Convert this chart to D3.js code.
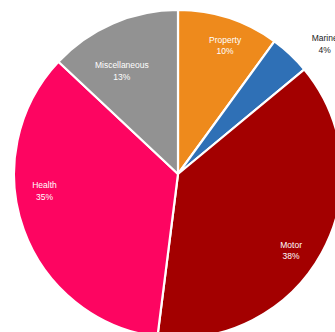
<!DOCTYPE html>
<html>
<head>
<meta charset="utf-8">
<script src="https://cdn.jsdelivr.net/npm/d3@7"></script>
<style>
  html, body { margin: 0; padding: 0; background: #fff; overflow: hidden; }
  .slice-label { font-family: "Liberation Sans Narrow", "Liberation Sans", Arial, sans-serif; font-size: 8.5px; }
</style>
</head>
<body>
<svg id="chart" width="335" height="332"></svg>
<script>
// Premium mix by line of business
const categories = ['Property', 'Marine', 'Motor', 'Health', 'Miscellaneous'];
const shares = [10, 4, 38, 35, 13];
const colors = ['#EE8A1C', '#2F70B6', '#A30000', '#FD0561', '#929292'];

// label placement: radius as fraction of pie radius, angle shift in degrees
const labelRadius = [0.84, 1.2, 0.83, 0.82, 0.72];
const labelShift = [2, 5, 5, 13, -5];

const width = 335, height = 332;
const cx = 178, cy = 174, R = 164;

const svg = d3.select('#chart');
const g = svg.append('g').attr('transform', `translate(${cx},${cy})`);

const pie = d3.pie().sort(null).value(d => d.value);
const arcs = pie(categories.map((c, i) => ({ name: c, value: shares[i] })));

const arc = d3.arc().innerRadius(0).outerRadius(R);

g.selectAll('path.slice')
  .data(arcs)
  .join('path')
  .attr('class', 'slice')
  .attr('d', arc)
  .attr('fill', (d, i) => colors[i])
  .attr('stroke', '#fff')
  .attr('stroke-width', 2.2)
  .attr('stroke-linejoin', 'round');

// labels
arcs.forEach((d, i) => {
  const a = (d.startAngle + d.endAngle) / 2 + labelShift[i] * Math.PI / 180;
  const r = R * labelRadius[i];
  const x = Math.sin(a) * r;
  const y = -Math.cos(a) * r;
  const outside = labelRadius[i] > 1;
  const t = g.append('text')
    .attr('class', 'slice-label')
    .attr('text-anchor', 'middle')
    .attr('fill', outside ? '#222' : '#fff')
    .attr('x', x)
    .attr('y', y);
  t.append('tspan').attr('x', x).attr('dy', '-0.2em').text(d.data.name);
  t.append('tspan').attr('x', x).attr('dy', '1.35em').text(d.data.value + '%');
});
</script>
</body>
</html>
